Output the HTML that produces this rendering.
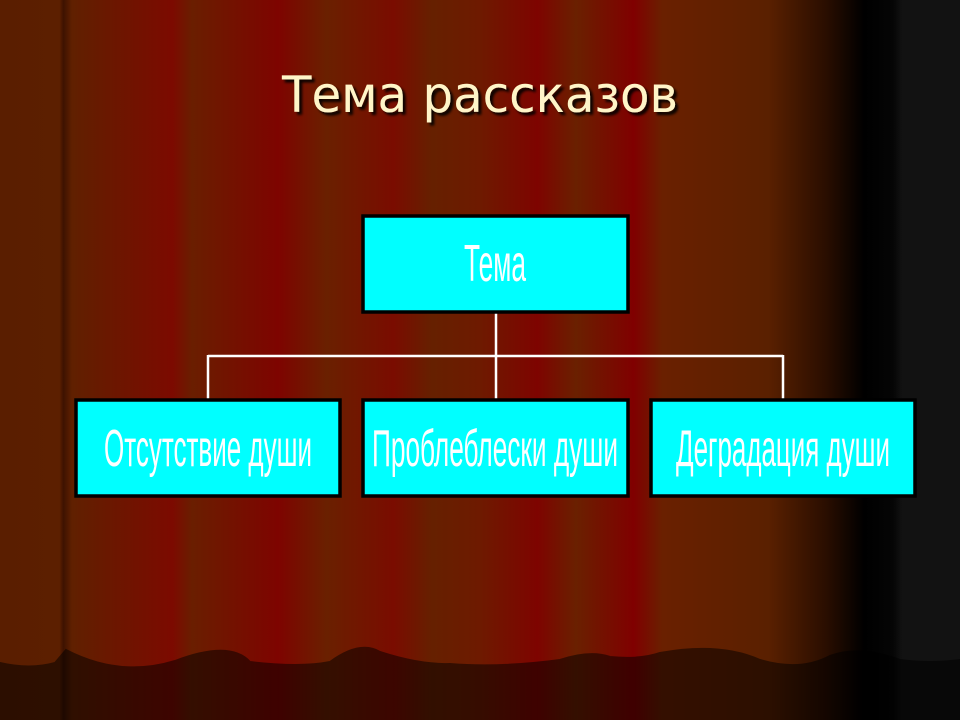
<!DOCTYPE html>
<html><head><meta charset="utf-8"><style>html,body{margin:0;padding:0;background:#000}svg{display:block}</style></head>
<body>
<svg width="960" height="720" viewBox="0 0 960 720" xmlns="http://www.w3.org/2000/svg">
<defs>
<linearGradient id="cur" x1="0" y1="0" x2="960" y2="0" gradientUnits="userSpaceOnUse">
<stop offset="0" stop-color="#5a1e00"/>
<stop offset="0.062" stop-color="#5c1f00"/>
<stop offset="0.066" stop-color="#3e1200"/>
<stop offset="0.075" stop-color="#602000"/>
<stop offset="0.18" stop-color="#7c0a00"/>
<stop offset="0.2" stop-color="#6a1e00"/>
<stop offset="0.29" stop-color="#7e0400"/>
<stop offset="0.34" stop-color="#6a2000"/>
<stop offset="0.41" stop-color="#7a0c00"/>
<stop offset="0.45" stop-color="#662000"/>
<stop offset="0.5" stop-color="#6e1a00"/>
<stop offset="0.56" stop-color="#7e0400"/>
<stop offset="0.6" stop-color="#6a2000"/>
<stop offset="0.66" stop-color="#800000"/>
<stop offset="0.69" stop-color="#6a2000"/>
<stop offset="0.8" stop-color="#5a2000"/>
<stop offset="0.86" stop-color="#2a0e00"/>
<stop offset="0.9" stop-color="#000"/>
<stop offset="0.93" stop-color="#050505"/>
<stop offset="0.94" stop-color="#121212"/>
<stop offset="1" stop-color="#121212"/>
</linearGradient>
<filter id="sh"><feDropShadow dx="3" dy="3" stdDeviation="1.2" flood-color="#000" flood-opacity="0.9"/></filter>
</defs>
<rect width="960" height="720" fill="url(#cur)"/>
<path d="M0 663 Q30 670 55 663 L66 650 Q120 678 175 661 Q230 640 250 662 Q300 668 330 662 Q360 640 380 652 Q420 665 450 664 Q500 668 560 660 Q590 650 610 657 Q640 660 660 653 Q720 642 760 660 Q800 672 830 656 Q860 645 900 660 Q930 664 960 660 L960 720 L0 720 Z" fill="#000" opacity="0.5" stroke="#000" stroke-width="2"/>
<text x="480" y="112" text-anchor="middle" font-family="DejaVu Sans, sans-serif" font-size="50" fill="#fff5c8" textLength="396" lengthAdjust="spacingAndGlyphs" filter="url(#sh)">Тема рассказов</text>
<g stroke="#fff" stroke-width="2.5" fill="none">
<path d="M496 313 V356 M208 356 H783 M208 355 V400 M496 355 V400 M783 355 V400"/>
</g>
<g fill="#00ffff" stroke="#000" stroke-width="3.5">
<rect x="363" y="216" width="265" height="96"/>
<rect x="76" y="400" width="264" height="96"/>
<rect x="363" y="400" width="265" height="96"/>
<rect x="651" y="400" width="264" height="96"/>
</g>
<g font-family="Liberation Sans, sans-serif" font-size="52" fill="#fff" text-anchor="middle">
<text x="495" y="281" textLength="62" lengthAdjust="spacingAndGlyphs">Тема</text>
<text x="208" y="466" textLength="208" lengthAdjust="spacingAndGlyphs">Отсутствие души</text>
<text x="495" y="466" textLength="246" lengthAdjust="spacingAndGlyphs">Проблеблески души</text>
<text x="783" y="466" textLength="214" lengthAdjust="spacingAndGlyphs">Деградация души</text>
</g>
</svg>
</body></html>
